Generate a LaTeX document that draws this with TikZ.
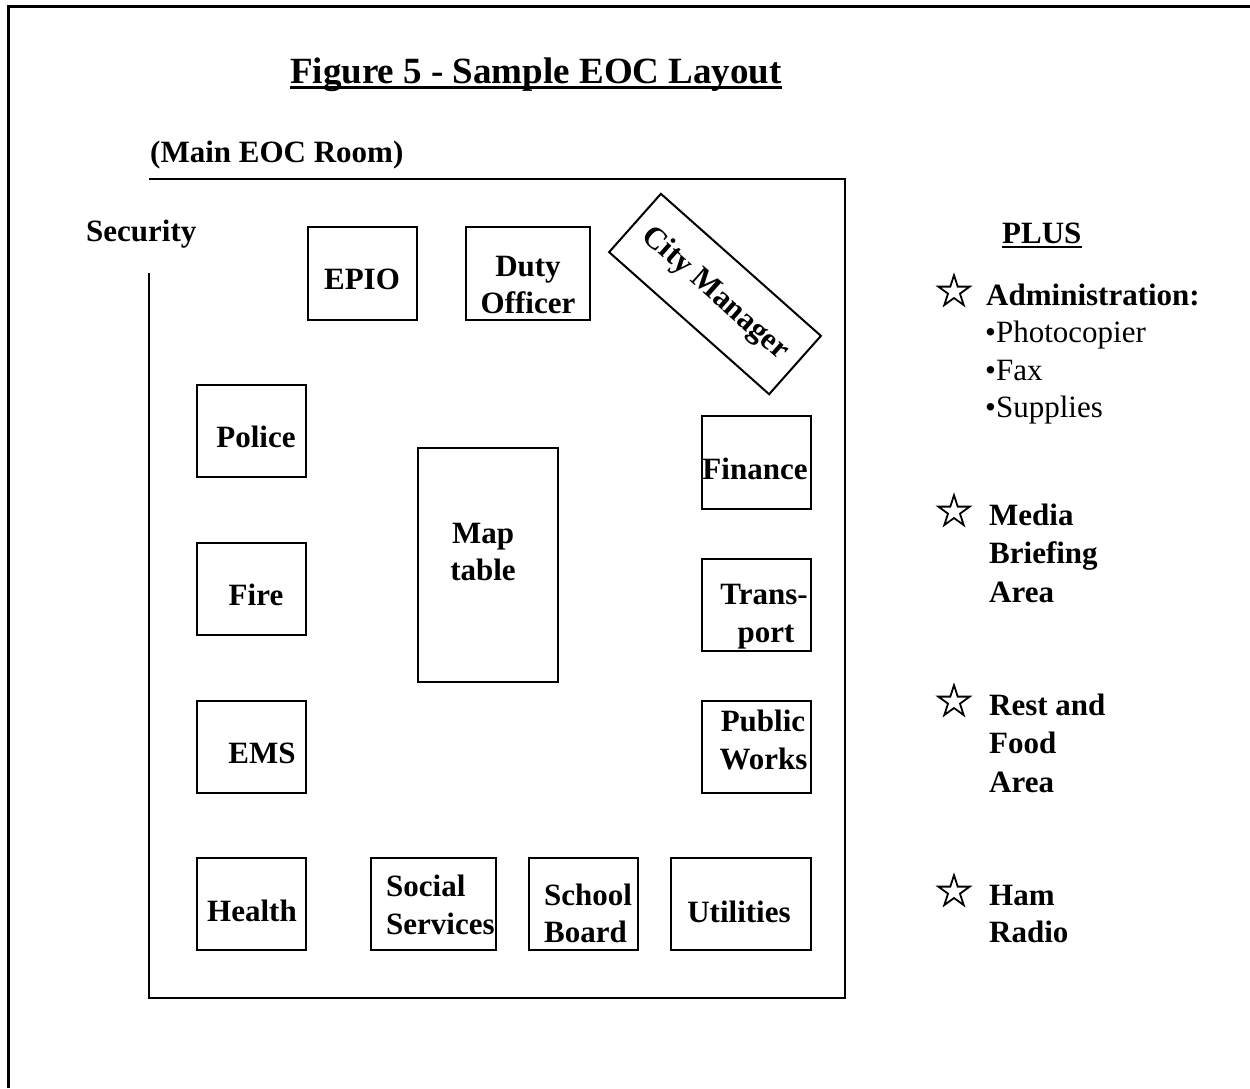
\documentclass[tikz,border=0pt]{standalone}
\usepackage{fontspec}
\setmainfont{Liberation Serif}
\usetikzlibrary{shapes.geometric}
\begin{document}
\begin{tikzpicture}[x=1pt,y=-1pt,
  frame/.style={line width=3pt},
  wall/.style={line width=2pt},
  desk/.style={draw, line width=2pt, inner sep=0pt},
  lbl/.style={inner sep=0pt, anchor=base, font=\fontsize{31}{38}\selectfont\bfseries},
  lblw/.style={lbl, anchor=base west},
  item/.style={inner sep=0pt, anchor=base west, font=\fontsize{31}{38}\selectfont},
  starmark/.style={star, star points=5, star point ratio=2.618, draw, line width=1.8pt,
                   minimum size=33pt, inner sep=0pt},
]
\useasboundingbox (0,0) rectangle (1250,1088);

% page frame (open at right and bottom)
\coordinate (fb) at (8,1088);
\coordinate (fc) at (8,6);
\coordinate (fr) at (1250,6);
\draw[frame] (fb) -- (fc) -- (fr);

% title
\node[lblw, font=\fontsize{37}{44}\selectfont\bfseries] (title) at (290,83) {Figure 5 - Sample EOC Layout};
\draw[line width=2.5pt] ([yshift=-4.5pt]title.base west) -- ([yshift=-4.5pt]title.base east);

% main room outline with the security entrance on the left
\node[lblw] (room) at (150,162) {(Main EOC Room)};
\node[lblw] (security) at (86,241) {Security};
\coordinate (door) at (149,273);
\coordinate (rbl) at (149,998);
\coordinate (rbr) at (845,998);
\coordinate (rtr) at (845,179);
\coordinate (rtl) at (149,179);
\draw[wall] (door) -- (rbl) -- (rbr) -- (rtr) -- (rtl);

% top row
\node[desk, minimum width=109pt, minimum height=93pt] (epio) at (362.5,273.5) {};
\node[lbl] (epioL) at (362,289) {EPIO};
\node[desk, minimum width=124pt, minimum height=93pt] (duty) at (528,273.5) {};
\node[lbl] (dutyA) at (528,276) {Duty};
\node[lbl] (dutyB) at (528,313) {Officer};
\node[desk, minimum width=214pt, minimum height=78pt, rotate=-41.6,
      font=\fontsize{31}{38}\selectfont\bfseries] (city) at (715,294) {City Manager};

% left column
\node[desk, minimum width=109pt, minimum height=92pt] (police) at (251.5,431) {};
\node[lbl] (policeL) at (256,447) {Police};
\node[desk, minimum width=109pt, minimum height=92pt] (fire) at (251.5,589) {};
\node[lbl] (fireL) at (256,605) {Fire};
\node[desk, minimum width=109pt, minimum height=92pt] (ems) at (251.5,747) {};
\node[lbl] (emsL) at (262,763) {EMS};
\node[desk, minimum width=109pt, minimum height=92pt] (health) at (251.5,904) {};
\node[lbl] (healthL) at (252,921) {Health};

% centre table
\node[desk, minimum width=140pt, minimum height=234pt] (map) at (488,565) {};
\node[lbl] (mapA) at (483,543) {Map};
\node[lbl] (mapB) at (483,580) {table};

% right column
\node[desk, minimum width=109pt, minimum height=93pt] (finance) at (756.5,462.5) {};
\node[lbl] (financeL) at (755,479) {Finance};
\node[desk, minimum width=109pt, minimum height=92pt] (transport) at (756.5,605) {};
\node[lbl] (transA) at (764,604) {Trans-};
\node[lbl] (transB) at (766,642) {port};
\node[desk, minimum width=109pt, minimum height=92pt] (works) at (756.5,747) {};
\node[lbl] (worksA) at (763,731) {Public};
\node[lbl] (worksB) at (763.5,769) {Works};

% bottom row
\node[desk, minimum width=125pt, minimum height=92pt] (social) at (433.5,904) {};
\node[lblw] (socialA) at (386,896) {Social};
\node[lblw] (socialB) at (386,934) {Services};
\node[desk, minimum width=109pt, minimum height=92pt] (school) at (583.5,904) {};
\node[lblw] (schoolA) at (544,905) {School};
\node[lblw] (schoolB) at (544,942) {Board};
\node[desk, minimum width=140pt, minimum height=92pt] (util) at (741,904) {};
\node[lbl] (utilL) at (739,922) {Utilities};

% additional areas
\node[lblw] (plus) at (1002,243) {PLUS};
\draw[line width=2pt] ([yshift=-3.5pt]plus.base west) -- ([yshift=-3.5pt]plus.base east);

\node[starmark] (s1) at (954,291.7) {};
\node[lblw] (admin) at (986,305) {Administration:};
\node[item] (copier) at (985,342) {\textbullet Photocopier};
\node[item] (fax) at (985,380) {\textbullet Fax};
\node[item] (supplies) at (985,417) {\textbullet Supplies};

\node[starmark] (s2) at (954,511.7) {};
\node[lblw] (mediaA) at (989,525) {Media};
\node[lblw] (mediaB) at (989,563) {Briefing};
\node[lblw] (mediaC) at (989,602) {Area};

\node[starmark] (s3) at (954,701.7) {};
\node[lblw] (restA) at (989,715) {Rest and};
\node[lblw] (restB) at (989,753) {Food};
\node[lblw] (restC) at (989,792) {Area};

\node[starmark] (s4) at (954,891.7) {};
\node[lblw] (hamA) at (989,905) {Ham};
\node[lblw] (hamB) at (989,942) {Radio};
\end{tikzpicture}
\end{document}
